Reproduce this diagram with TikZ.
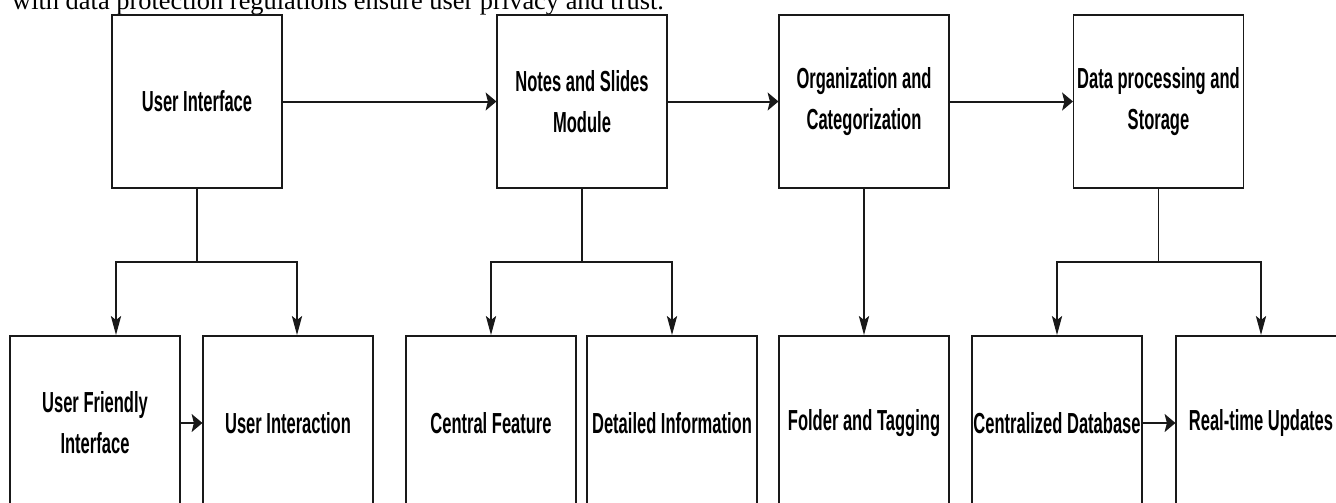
\documentclass[tikz,border=0pt]{standalone}
\usepackage{fontspec}
\setmainfont{Liberation Serif}
\newfontfamily\boxfont{Liberation Sans}
\usetikzlibrary{arrows.meta,calc}

\tikzset{
  block/.style={draw=black!90, line width=2pt, inner sep=0pt,
    minimum width=298.2pt, minimum height=173pt, align=center,
    font=\boxfont\bfseries\fontsize{29pt}{41pt}\selectfont},
  lowblock/.style={block, minimum height=174pt},
  conn/.style={draw=black!90, line width=2pt},
  tipped/.style={conn, -{Stealth[length=19pt,width=18pt,inset=4pt]}}
}

\begin{document}
\begin{tikzpicture}
\useasboundingbox (0pt,0pt) rectangle (1336pt,-503pt);

% closing line of the preceding paragraph
\node[anchor=base west, inner sep=0pt, font=\fontsize{26.4pt}{30pt}\selectfont]
  (para) at (12pt,-9.5pt) {with data protection regulations ensure user privacy and trust.};

% the diagram is set horizontally condensed
\begin{scope}[transform canvas={xscale=0.57}, x=1.75439pt, y=-1pt]
  % upper row
  \node[block] (ui)    at (197,101.5)   {User Interface};
  \node[block] (notes) at (582,101.5)   {Notes and Slides\\Module};
  \node[block] (org)   at (864,101.5)   {Organization and\\Categorization};
  \node[block] (data)  at (1158.5,101.5){Data processing and\\Storage};

  % lower row
  \node[lowblock] (uf)      at (95,423)   {User Friendly\\Interface};
  \node[lowblock] (uint)    at (288,423)  {User Interaction};
  \node[lowblock] (central) at (491,423)  {Central Feature};
  \node[lowblock] (detail)  at (672,423)  {Detailed Information};
  \node[lowblock] (folder)  at (864,423)  {Folder and Tagging};
  \node[lowblock] (cdb)     at (1057,423) {Centralized Database};
  \node[lowblock] (rt)      at (1261,423) {Real-time Updates};

  % main flow
  \draw[tipped] (ui.east)    -- (notes.west);
  \draw[tipped] (notes.east) -- (org.west);
  \draw[tipped] (org.east)   -- (data.west);

  % branch points
  \coordinate (b1) at (197,262);
  \coordinate (b2) at (582,262);
  \coordinate (b4) at (1158.5,262);

  \draw[conn] (ui.south) -- (b1);
  \draw[tipped] (b1) -| ($(uf.north)+(21,0)$);
  \draw[tipped] (b1) -| ($(uint.north)+(9,0)$);

  \draw[conn] (notes.south) -- (b2);
  \draw[tipped] (b2) -| (central.north);
  \draw[tipped] (b2) -| (detail.north);

  \draw[tipped] (org.south) -- (folder.north);

  \draw[conn] (data.south) -- (b4);
  \draw[tipped] (b4) -| (cdb.north);
  \draw[tipped] (b4) -| (rt.north);

  % links within the lower row
  \draw[tipped] (uf.east)  -- (uint.west);
  \draw[tipped] (cdb.east) -- (rt.west);
\end{scope}
\end{tikzpicture}
\end{document}
